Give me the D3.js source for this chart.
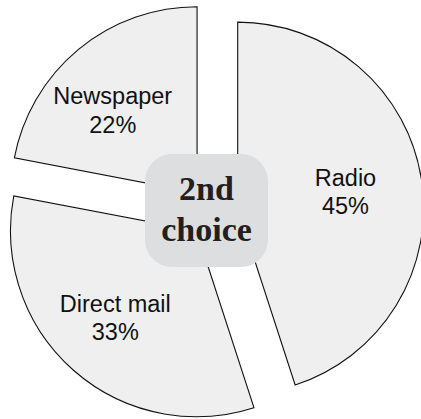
<!DOCTYPE html>
<html>
<head>
<meta charset="utf-8">
<script src="https://cdn.jsdelivr.net/npm/d3@7"></script>
<style>
  html, body { margin: 0; padding: 0; background: #ffffff; }
  svg { display: block; }
</style>
</head>
<body>
<div id="chart"></div>
<script>
// Media shares for the second choice, clockwise from 12 o'clock
const categories = ["Radio", "Direct mail", "Newspaper"];
const shares = [45, 33, 22];
const centerLines = ["2nd", "choice"];

const width = 421, height = 419;
const cx = 213, cy = 212;
const radius = 186;
const explode = 25;

// Label placement in polar terms relative to each slice's tip
const labelPlacement = {
  "Radio":       { r: 109, turn: 0.5 },
  "Direct mail": { r: 119, turn: 1.6 },
  "Newspaper":   { r: 118, turn: -6 }
};

const svg = d3.select("#chart").append("svg")
  .attr("width", width)
  .attr("height", height);

const pie = d3.pie().sort(null).value(d => d.value);
const arcs = pie(categories.map((c, i) => ({ name: c, value: shares[i] })));

const arc = d3.arc().innerRadius(0).outerRadius(radius);

const g = svg.append("g").attr("transform", `translate(${cx},${cy})`);

const slice = g.selectAll("g.slice")
  .data(arcs)
  .join("g")
  .attr("class", "slice")
  .attr("transform", d => {
    const mid = (d.startAngle + d.endAngle) / 2;
    return `translate(${Math.sin(mid) * explode},${-Math.cos(mid) * explode})`;
  });

slice.append("path")
  .attr("d", arc)
  .attr("fill", "#efefef")
  .attr("stroke", "#111")
  .attr("stroke-width", 1.1)
  .attr("stroke-linejoin", "miter");

const label = slice.append("text")
  .attr("text-anchor", "middle")
  .attr("font-family", "Liberation Sans, Arial, sans-serif")
  .attr("font-size", 23.5)
  .attr("fill", "#111")
  .attr("transform", d => {
    const p = labelPlacement[d.data.name];
    const a = (d.startAngle + d.endAngle) / 2 + p.turn * Math.PI / 180;
    return `translate(${Math.sin(a) * p.r},${-Math.cos(a) * p.r})`;
  });

label.append("tspan")
  .attr("x", 0)
  .attr("y", -6)
  .text(d => d.data.name);

label.append("tspan")
  .attr("x", 0)
  .attr("y", 22.5)
  .text(d => d.data.value + "%");

// Central caption box
const box = svg.append("g").attr("transform", "translate(206.5,210.5)");
box.append("rect")
  .attr("x", -61.5)
  .attr("y", -56.5)
  .attr("width", 123)
  .attr("height", 113)
  .attr("rx", 27)
  .attr("ry", 27)
  .attr("fill", "#dddee0");

box.append("text")
  .attr("text-anchor", "middle")
  .attr("font-family", "Liberation Serif, Times New Roman, serif")
  .attr("font-weight", "bold")
  .attr("font-size", 34)
  .attr("fill", "#231f20")
  .selectAll("tspan")
  .data(centerLines)
  .join("tspan")
  .attr("x", 0)
  .attr("y", (d, i) => -10.5 + i * 40.5)
  .text(d => d);
</script>
</body>
</html>
